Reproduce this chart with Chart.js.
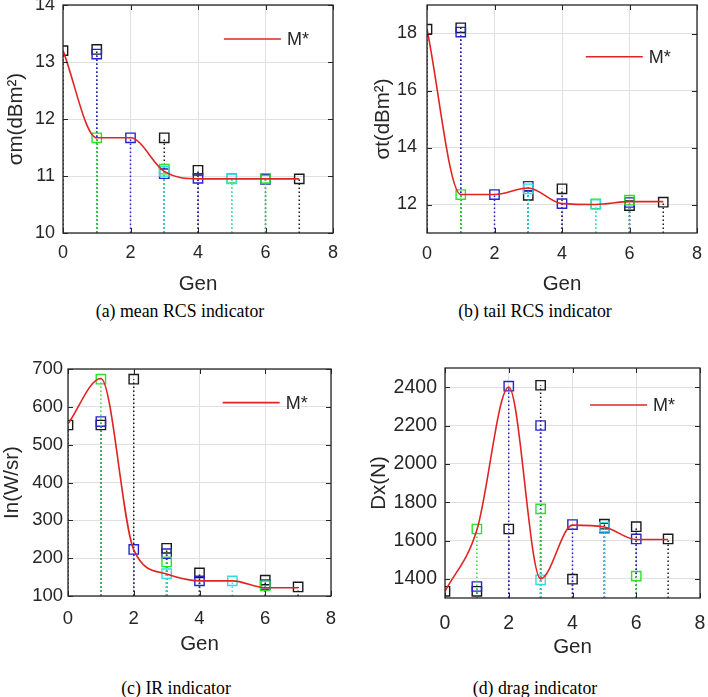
<!DOCTYPE html>
<html>
<head>
<meta charset="utf-8">
<script src="https://cdn.jsdelivr.net/npm/chart.js@4.4.0/dist/chart.umd.min.js"></script>
<style>
  body { margin: 0; background: #fff; }
  #fig { position: relative; width: 708px; height: 697px; overflow: hidden; }
  canvas { position: absolute; }
  .cap { position: absolute; font-family: "Liberation Serif", "Times New Roman", serif; font-size: 17.8px; color: #000; white-space: nowrap; transform: translate(-50%, -50%); }
</style>
</head>
<body>
<div id="fig">
  <canvas id="chartA" width="354" height="300" style="left:0px;top:0px"></canvas>
  <canvas id="chartB" width="341" height="300" style="left:367px;top:0px"></canvas>
  <canvas id="chartC" width="354" height="320" style="left:0px;top:340px"></canvas>
  <canvas id="chartD" width="345" height="320" style="left:363px;top:340px"></canvas>
  <div class="cap" style="left:180px;top:311px">(a) mean RCS indicator</div>
  <div class="cap" style="left:535px;top:311px">(b) tail RCS indicator</div>
  <div class="cap" style="left:176px;top:688px">(c) IR indicator</div>
  <div class="cap" style="left:535px;top:688px">(d) drag indicator</div>
</div>
<script>
var gens = [0, 1, 2, 3, 4, 5, 6, 7];
var genTicks = [0, 2, 4, 6, 8];

// (a) mean RCS indicator
var aTicks = [10, 11, 12, 13, 14];
var aBest  = [13.2, 11.67, 11.67, 11.08, 10.95, 10.95, 10.95, 10.95];
var aBlack = [13.2, 13.22, null, 11.67, 11.1, null, null, 10.95];
var aBlue  = [null, 13.14, 11.67, 11.04, 10.96, null, 10.94, null];
var aGreen = [null, 11.67, null, 11.12, null, 10.96, 10.96, null];
var aCyan  = [null, null, null, 11.08, null, 10.95, null, null];

// (b) tail RCS indicator
var bTicks = [12, 14, 16, 18];
var bBest  = [18.15, 12.35, 12.35, 12.58, 12.03, 12.0, 12.1, 12.1];
var bBlack = [18.15, 18.2, null, 12.32, 12.55, null, 11.96, 12.08];
var bBlue  = [null, 18.05, 12.35, 12.64, 12.03, null, 12.07, null];
var bGreen = [null, 12.35, null, null, null, 12.02, 12.15, null];
var bCyan  = [null, null, null, 12.55, null, 12.0, null, null];

// (c) IR indicator
var cTicks = [100, 200, 300, 400, 500, 600, 700];
var cBest  = [555, 675, 222, 158, 140, 140, 122, 122];
var cBlack = [552, 552, 673, 226, 161, null, 142, 124];
var cBlue  = [null, 561, 223, 212, 140, null, 130, null];
var cGreen = [null, 673, null, 190, null, null, 127, null];
var cCyan  = [null, null, null, 159, null, 140, null, null];

// (d) drag indicator
var dTicks = [1400, 1600, 1800, 2000, 2200, 2400];
var dBest  = [1335, 1655, 2400, 1400, 1680, 1670, 1605, 1605];
var dBlack = [1335, 1335, 1660, 2410, 1398, 1685, 1672, 1608];
var dBlue  = [null, 1360, 2405, 2200, 1683, 1665, 1608, null];
var dGreen = [null, 1660, null, 1765, null, null, 1414, null];
var dCyan  = [null, null, null, 1395, null, 1670, null, null];

var colors = { best: '#e02424', black: '#1a1a1a', blue: '#2525d0', green: '#2ee02e', cyan: '#2fdede' };
var family = 'Arial, "Liberation Sans", sans-serif';
var ink = '#262626';

// one dataset per colour: a dotted stem from the axis floor up to each value
function stemData(vals, floor) {
  var out = [];
  for (var i = 0; i < gens.length; i++) {
    if (vals[i] == null) continue;
    out.push({ x: gens[i], y: floor }, { x: gens[i], y: vals[i], top: true }, { x: gens[i], y: null });
  }
  return out;
}

var frame = {
  id: 'frame',
  afterDraw: function (chart, args, opts) {
    var a = chart.chartArea, ctx = chart.ctx;
    var sx = chart.scales.x, sy = chart.scales.y;
    ctx.save();
    ctx.strokeStyle = ink;
    ctx.lineWidth = 1;
    ctx.beginPath();
    sx.ticks.forEach(function (t) {
      var px = Math.round(sx.getPixelForValue(t.value)) + 0.5;
      ctx.moveTo(px, a.bottom); ctx.lineTo(px, a.bottom - 5);
      ctx.moveTo(px, a.top); ctx.lineTo(px, a.top + 5);
    });
    sy.ticks.forEach(function (t) {
      var py = Math.round(sy.getPixelForValue(t.value)) + 0.5;
      ctx.moveTo(a.left, py); ctx.lineTo(a.left + 5, py);
      ctx.moveTo(a.right, py); ctx.lineTo(a.right - 5, py);
    });
    ctx.stroke();
    ctx.lineWidth = 1.3;
    ctx.strokeRect(a.left, a.top, a.right - a.left, a.bottom - a.top);
    // legend inside the axes, no box
    var lx = a.left + opts.at[0] * (a.right - a.left);
    var ly = a.top + opts.at[1] * (a.bottom - a.top);
    ctx.strokeStyle = colors.best;
    ctx.lineWidth = 1.6;
    ctx.beginPath(); ctx.moveTo(lx, ly); ctx.lineTo(lx + 57, ly); ctx.stroke();
    ctx.fillStyle = ink;
    ctx.font = '18px ' + family;
    ctx.textBaseline = 'middle';
    ctx.fillText(chart.data.datasets[0].label, lx + 63, ly + 1);
    ctx.restore();
  }
};

function makePanel(p) {
  var floor = p.yMin;
  var series = [
    { vals: p.cyan, color: colors.cyan },
    { vals: p.green, color: colors.green },
    { vals: p.blue, color: colors.blue },
    { vals: p.black, color: colors.black }
  ];
  var datasets = [{
    label: 'M*',
    data: gens.map(function (g, i) { return { x: g, y: p.best[i] }; }),
    borderColor: colors.best,
    borderWidth: 1.6,
    pointRadius: 0,
    cubicInterpolationMode: 'monotone'
  }];
  series.forEach(function (s) {
    datasets.push({
      label: '',
      data: stemData(s.vals, floor),
      borderColor: s.color,
      borderWidth: 1.5,
      borderDash: [1.5, 2.5],
      spanGaps: false,
      pointStyle: 'rect',
      pointRadius: function (c) { return c.raw && c.raw.top ? 6.6 : 0; },
      pointBorderWidth: 1.4,
      pointBorderColor: s.color,
      pointBackgroundColor: 'rgba(0,0,0,0)'
    });
  });
  var canvas = document.getElementById(p.id);
  new Chart(canvas, {
    type: 'line',
    data: { datasets: datasets },
    plugins: [frame],
    options: {
      responsive: false,
      animation: false,
      events: [],
      layout: { padding: { left: 0, top: p.padTop, right: p.padRight, bottom: 0 } },
      plugins: { legend: { display: false }, tooltip: { enabled: false }, frame: { at: p.legendAt } },
      scales: {
        x: {
          type: 'linear', min: 0, max: 8,
          afterBuildTicks: function (s) { s.ticks = genTicks.map(function (v) { return { value: v }; }); },
          afterFit: function (s) { s.height = p.xH; s.paddingLeft = 0; s.paddingRight = 0; },
          grid: { color: '#e0e0e0', drawTicks: false },
          border: { display: false },
          ticks: { padding: p.xPad, maxRotation: 0, color: ink, font: { size: p.tickSize, family: family },
                   callback: function (v) { return String(v); } },
          title: { display: true, text: 'Gen', color: ink, font: { size: 20.5, family: family },
                   padding: { top: 0, bottom: p.genPad } }
        },
        y: {
          type: 'linear', min: p.yMin, max: p.yMax,
          afterBuildTicks: function (s) { s.ticks = p.yTicks.map(function (v) { return { value: v }; }); },
          afterFit: function (s) { s.width = p.yW; s.paddingTop = 0; s.paddingBottom = 0; },
          grid: { color: '#e0e0e0', drawTicks: false },
          border: { display: false },
          ticks: { padding: p.yPad, color: ink, font: { size: p.tickSize, family: family },
                   callback: function (v) { return String(v); } },
          title: { display: true, text: p.yTitle, color: ink, font: { size: 20.5, family: family },
                   padding: { top: p.yTitlePad, bottom: 0 } }
        }
      }
    }
  });
}

makePanel({ id: 'chartA', best: aBest, black: aBlack, blue: aBlue, green: aGreen, cyan: aCyan,
  yTicks: aTicks, yMin: 10, yMax: 14, yTitle: 'σm(dBm²)',
  yW: 63, padTop: 5, padRight: 21, xH: 67, xPad: 9, genPad: 3, yPad: 8, yTitlePad: 4, tickSize: 18,
  legendAt: [0.596, 0.149] });
makePanel({ id: 'chartB', best: bBest, black: bBlack, blue: bBlue, green: bGreen, cyan: bCyan,
  yTicks: bTicks, yMin: 11, yMax: 19, yTitle: 'σt(dBm²)',
  yW: 60, padTop: 5, padRight: 11, xH: 67, xPad: 10, genPad: 3, yPad: 10, yTitlePad: 4, tickSize: 18,
  legendAt: [0.588, 0.227] });
makePanel({ id: 'chartC', best: cBest, black: cBlack, blue: cBlue, green: cGreen, cyan: cCyan,
  yTicks: cTicks, yMin: 100, yMax: 700, yTitle: 'In(W/sr)',
  yW: 68, padTop: 29, padRight: 23, xH: 64, xPad: 12, genPad: 3, yPad: 5, yTitlePad: 0, tickSize: 18.5,
  legendAt: [0.588, 0.148] });
makePanel({ id: 'chartD', best: dBest, black: dBlack, blue: dBlue, green: dGreen, cyan: dCyan,
  yTicks: dTicks, yMin: 1300, yMax: 2500, yTitle: 'Dx(N)',
  yW: 82, padTop: 28, padRight: 8, xH: 62, xPad: 14, genPad: 0, yPad: 8, yTitlePad: 4, tickSize: 19.5,
  legendAt: [0.569, 0.161] });
</script>
</body>
</html>
